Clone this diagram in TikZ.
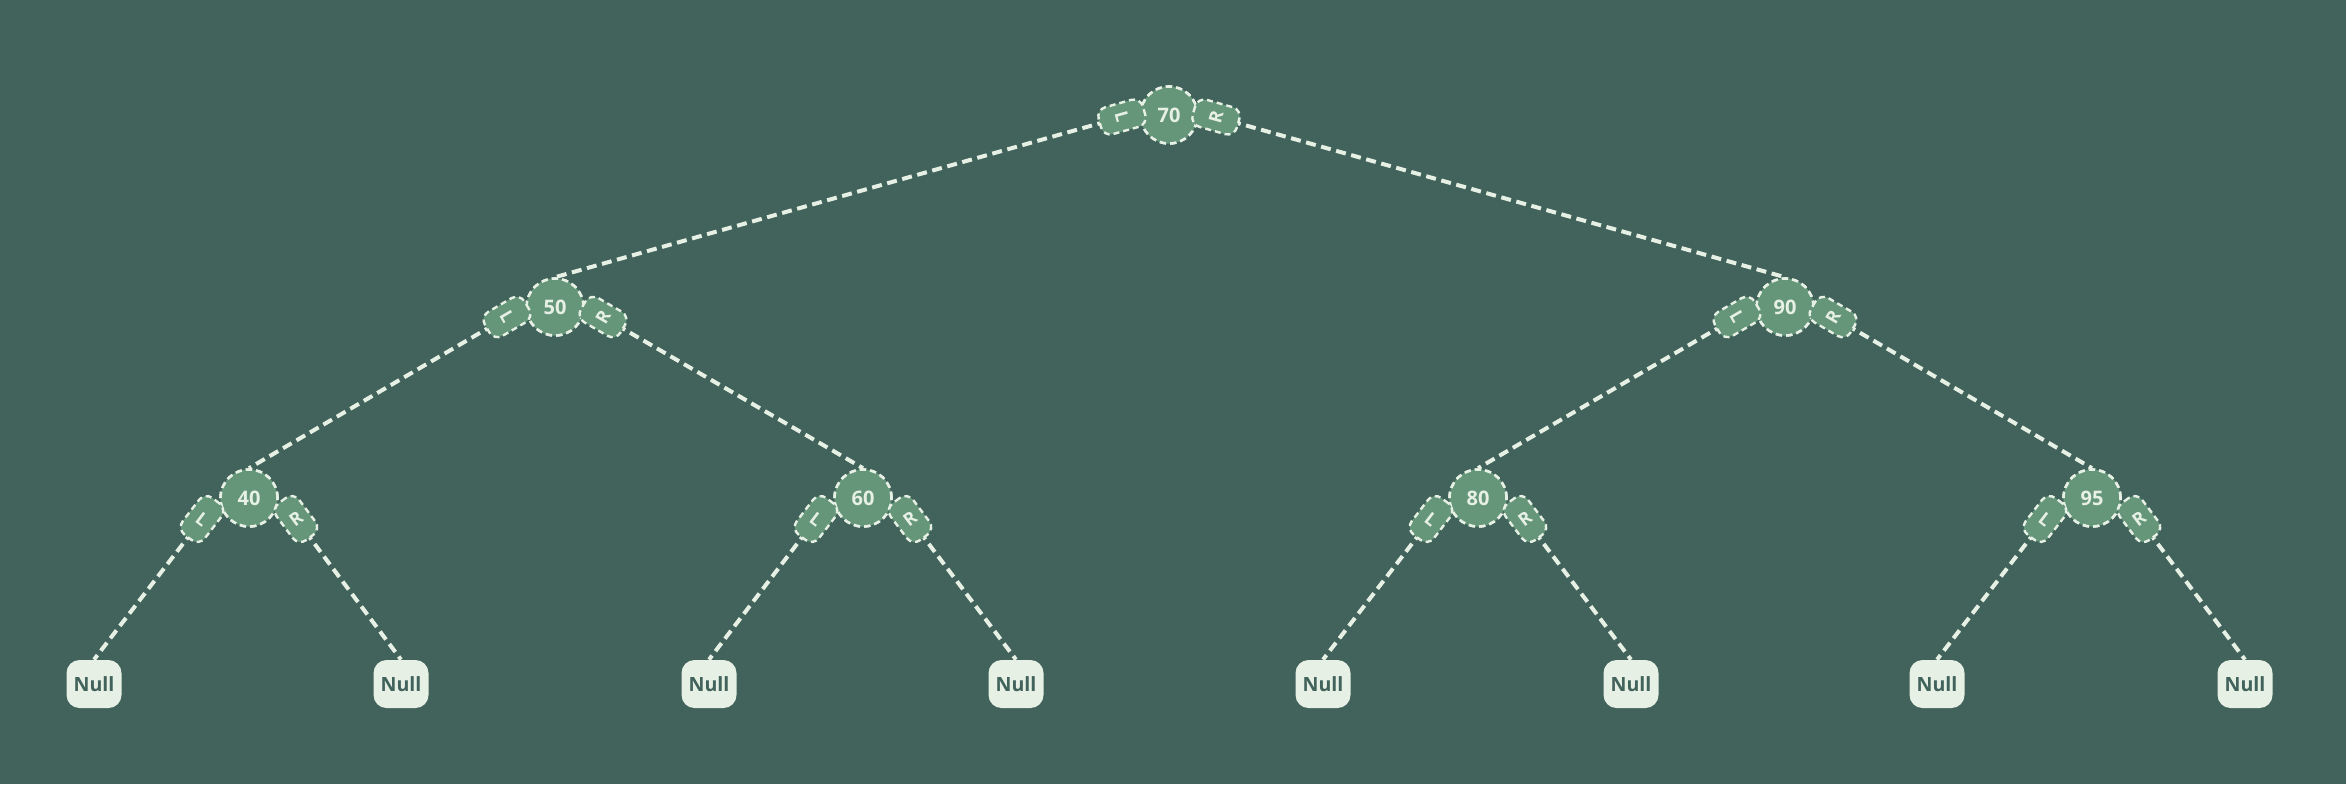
\documentclass[tikz,border=0pt]{standalone}
\usepackage{fontspec}
\setmainfont{Open Sans}
\usetikzlibrary{calc}
\definecolor{bg}{HTML}{41635B}
\definecolor{nodefill}{HTML}{65967A}
\definecolor{light}{HTML}{E7F0E4}
\tikzset{
  edge/.style={draw=light, line width=2pt, dash pattern=on 5pt off 2.8pt},
  treenode/.style={circle, fill=nodefill, draw=light, line width=1.3pt,
    dash pattern=on 3.2pt off 2pt, minimum size=28.5pt, inner sep=0pt,
    text=light, font=\bfseries\fontsize{10}{12}\selectfont},
  pill/.style={rectangle, rounded corners=4.8pt, fill=nodefill, draw=light,
    line width=1.2pt, dash pattern=on 3pt off 2pt, minimum width=14pt,
    minimum height=23pt, inner sep=0pt, text=light,
    font=\bfseries\fontsize{9}{10}\selectfont},
  nullbox/.style={rectangle, rounded corners=6.5pt, fill=light,
    minimum width=27.5pt, minimum height=24pt, inner sep=0pt,
    text=bg, font=\bfseries\fontsize{9.8}{12}\selectfont},
}
% #1 pill name, #2 pill position, #3 target node, #4 label
\newcommand\mypill[4]{%
  \path let \p1=(#2), \p2=(#3.north), \n1={atan2(\y2-\y1,\x2-\x1)+90} in
    node[pill, rotate=\n1] (#1) at (#2) {#4};
}
\begin{document}
\begin{tikzpicture}[x=0.5pt,y=-0.5pt]
\fill[bg] (0,0) rectangle (2346,784);
\useasboundingbox (0,0) rectangle (2346,784);
% null leaves
\node[nullbox] (u1) at (94,684) {Null};
\node[nullbox] (u2) at (401,684) {Null};
\node[nullbox] (u3) at (709,684) {Null};
\node[nullbox] (u4) at (1016,684) {Null};
\node[nullbox] (u5) at (1323,684) {Null};
\node[nullbox] (u6) at (1631,684) {Null};
\node[nullbox] (u7) at (1937,684) {Null};
\node[nullbox] (u8) at (2245,684) {Null};
% tree node positions
\coordinate (c70) at (1169,115);
\coordinate (c50) at (555,307);
\coordinate (c90) at (1785,307);
\coordinate (c40) at (249,498);
\coordinate (c60) at (863,498);
\coordinate (c80) at (1478,498);
\coordinate (c95) at (2092,498);
% pill anchor coordinates
\coordinate (p70L) at ($(c70)+(-47,2)$);
\coordinate (p70R) at ($(c70)+(47,2)$);
\foreach \n in {50,90}{
  \coordinate (p\n L) at ($(c\n)+(-48,10)$);
  \coordinate (p\n R) at ($(c\n)+(48,10)$);
}
\foreach \n in {40,60,80,95}{
  \coordinate (p\n L) at ($(c\n)+(-47,21)$);
  \coordinate (p\n R) at ($(c\n)+(47,21)$);
}
% tree nodes
\node[treenode] (n70) at (c70) {70};
\node[treenode] (n50) at (c50) {50};
\node[treenode] (n90) at (c90) {90};
\node[treenode] (n40) at (c40) {40};
\node[treenode] (n60) at (c60) {60};
\node[treenode] (n80) at (c80) {80};
\node[treenode] (n95) at (c95) {95};
% edges
\draw[edge] (p70L) -- (n50.north);
\draw[edge] (p70R) -- (n90.north);
\draw[edge] (p50L) -- (n40.north);
\draw[edge] (p50R) -- (n60.north);
\draw[edge] (p90L) -- (n80.north);
\draw[edge] (p90R) -- (n95.north);
\draw[edge] (p40L) -- (u1.north);
\draw[edge] (p40R) -- (u2.north);
\draw[edge] (p60L) -- (u3.north);
\draw[edge] (p60R) -- (u4.north);
\draw[edge] (p80L) -- (u5.north);
\draw[edge] (p80R) -- (u6.north);
\draw[edge] (p95L) -- (u7.north);
\draw[edge] (p95R) -- (u8.north);
% redraw tree nodes over edge ends
\foreach \n in {70,50,90,40,60,80,95}{
  \node[treenode] at (c\n) {\n};
}
% pills
\mypill{l70}{p70L}{n50}{L}
\mypill{r70}{p70R}{n90}{R}
\mypill{l50}{p50L}{n40}{L}
\mypill{r50}{p50R}{n60}{R}
\mypill{l90}{p90L}{n80}{L}
\mypill{r90}{p90R}{n95}{R}
\mypill{l40}{p40L}{u1}{L}
\mypill{r40}{p40R}{u2}{R}
\mypill{l60}{p60L}{u3}{L}
\mypill{r60}{p60R}{u4}{R}
\mypill{l80}{p80L}{u5}{L}
\mypill{r80}{p80R}{u6}{R}
\mypill{l95}{p95L}{u7}{L}
\mypill{r95}{p95R}{u8}{R}
\end{tikzpicture}
\end{document}
